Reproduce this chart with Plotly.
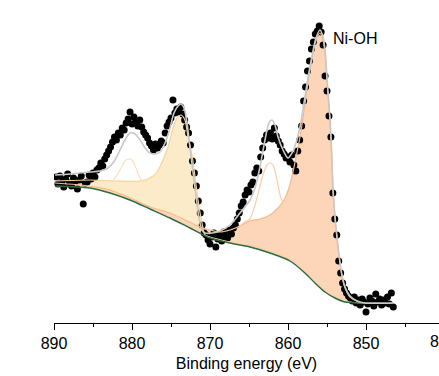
import numpy as np
import plotly.graph_objects as go

# ---------------- data (binding energy in eV, intensity in a.u.) ----------------
# measured spectrum: regular 0.25 eV grid from 889.75 eV down to 846.5 eV
meas_energy = np.round(np.arange(889.75, 846.49, -0.25), 2)
meas_counts = [
    146, 139, 147, 141, 136, 144, 149, 140, 137, 145, 142, 134, 143, 147, 119, 140,
    141, 148, 144, 150, 146, 153, 155, 160, 157, 164, 168, 172,
    176, 181, 186, 183, 190, 188, 195, 193, 200, 204, 211, 199, 206, 202, 197, 203,
    196, 191, 188, 185, 180, 177, 173, 179, 175, 178, 182, 180,
    190, 197, 201, 205, 223, 210, 214, 211, 216, 209, 203, 196, 190, 178,
    162, 150, 137, 122, 110, 98, 90,
    88, 83, 79, 86, 90, 76, 84, 88, 82, 91, 87, 85, 93, 89, 95, 98,
    104, 110, 117, 121, 128, 133, 131, 138, 141, 150, 155, 152, 166,
    175, 183, 188, 185, 190, 184, 195, 187, 182, 178, 172, 169, 165,
    166, 161, 168, 158, 152, 172, 183, 197,
    222, 236, 252, 262, 274, 281, 289, 292, 297, 291,
    278, 247, 232, 207, 186, 130, 104, 88, 62, 50, 40, 34, 30,
    27, 25, 22, 26, 20, 23, 18, 24, 21, 11, 19, 25, 22, 17, 29, 21, 24, 18, 23, 20, 26, 19, 30, 16,
]

# Shirley background
bg_energy = [889.87, 885.38, 882.82, 880.26, 877.69, 875.13, 872.56, 870.0, 867.44,
             864.87, 862.31, 859.74, 857.82, 856.54, 855.26, 853.97, 852.69, 850.77, 846.54]
bg_counts = [137, 135, 130, 123, 114, 105, 95, 85, 80,
             76, 70, 62, 50, 40, 31, 25, 21, 20, 20]

# Ni 2p1/2 main component (background + peak)
p12_energy = [889.87, 885.38, 882.18, 878.97, 877.69, 876.79, 876.03, 875.38, 874.74,
              874.23, 873.72, 873.21, 872.82, 872.31, 871.92, 871.54, 871.03, 870.64,
              870.0, 867.44, 863.59, 859.74, 857.18, 854.62, 852.05, 846.54]
p12_counts = [142, 143, 142, 142, 145, 151, 163, 176, 195,
              205, 208, 203, 186, 168, 146, 123, 100, 88,
              86, 81, 75, 63, 45, 28, 21, 20]

# Ni 2p3/2 main component, Ni-OH (background + peak)
p32_energy = [889.87, 885.38, 882.82, 880.26, 877.69, 875.13, 873.21, 871.28, 870.0,
              868.72, 867.44, 866.15, 864.87, 863.59, 862.31, 861.28, 860.51, 859.87,
              859.36, 858.97, 858.46, 857.95, 857.44, 856.92, 856.41, 855.90, 855.51,
              855.26, 855.0, 854.81, 854.62, 854.42, 854.23, 853.97, 853.72, 853.46,
              853.08, 852.69, 852.05, 851.15, 850.13, 846.54]
p32_counts = [140, 137, 133, 125, 116, 110, 103, 96, 93,
              91, 93, 97, 102, 104, 108, 115, 123, 135,
              151, 166, 186, 212, 240, 264, 283, 290, 283,
              271, 243, 223, 203, 173, 133, 105, 85, 67,
              47, 35, 26, 22, 20, 20]

# satellite of Ni 2p1/2
sat12_energy = [883.2, 882.56, 881.92, 881.28, 880.77, 880.38, 880.0, 879.49, 878.97, 878.59, 878.0]
sat12_counts = [142, 142, 148, 157, 163, 164, 163, 155, 145, 142, 142]

# satellite of Ni 2p3/2
sat32_energy = [866.2, 865.51, 864.87, 864.23, 863.72, 863.21, 862.69, 862.31, 861.92,
                861.54, 861.15, 860.90, 860.64]
sat32_counts = [97, 101, 104, 118, 133, 148, 158, 160, 158,
                148, 133, 125, 121]

# fitted envelope
env_energy = [889.87, 887.95, 885.38, 884.10, 883.08, 882.18, 881.54, 880.90, 880.26,
              879.62, 878.97, 878.33, 877.69, 877.05, 876.41, 875.77, 875.13, 874.62,
              874.10, 873.72, 873.33, 872.95, 872.56, 872.18, 871.79, 871.41, 871.03,
              870.64, 869.74, 868.72, 867.44, 866.15, 864.87, 864.23, 863.59, 862.95,
              862.44, 862.05, 861.67, 861.28, 860.64, 860.0, 859.49, 858.97, 858.46,
              857.95, 857.44, 856.92, 856.41, 855.90, 855.51, 855.26, 855.0, 854.81,
              854.62, 854.42, 854.23, 853.97, 853.72, 853.46, 853.08, 852.69, 852.05,
              851.15, 850.13, 846.54]
env_counts = [148, 149, 151, 152, 155, 163, 173, 183, 190,
              189, 183, 175, 170, 169, 171, 180, 195, 210,
              217, 219, 215, 200, 175, 151, 127, 105, 93,
              90, 90, 92, 98, 110, 123, 135, 156, 183,
              200, 203, 198, 186, 173, 165, 170, 180, 196,
              220, 245, 267, 285, 293, 286,
              273, 245, 224, 204, 174, 134, 106, 86, 68,
              48, 36, 27, 22, 20, 20]

x_ticks = [890, 880, 870, 860, 850]
cut_tick_label = "840"
peak_label = "Ni-OH"
x_title = "Binding energy (eV)"

# ---------------- styling ----------------
FONT = "Arial, 'Liberation Sans', sans-serif"
C_BG = "#2f6b40"
C_ENV = "#c8c8c8"
C_P12_FILL = "#fcebc9"
C_P12_LINE = "#f7d29a"
C_P32_FILL = "#fdd6ba"
C_P32_LINE = "#f8b887"
C_SAT12 = "#fbe0b4"
C_SAT32 = "#fbcbab"

SM = 0.8
fig = go.Figure()


def spline(x, y, color, width=1.2, **kw):
    return go.Scatter(x=x, y=y, mode="lines", hoverinfo="skip", showlegend=False,
                      line=dict(color=color, width=width, shape="spline", smoothing=SM), **kw)


# filled components
fig.add_trace(spline(bg_energy, bg_counts, "rgba(0,0,0,0)", width=0))
fig.add_trace(spline(p12_energy, p12_counts, "rgba(0,0,0,0)", width=0,
                     fill="tonexty", fillcolor=C_P12_FILL))
fig.add_trace(spline(bg_energy, bg_counts, "rgba(0,0,0,0)", width=0))
fig.add_trace(spline(p32_energy, p32_counts, "rgba(0,0,0,0)", width=0,
                     fill="tonexty", fillcolor=C_P32_FILL))

# measured points
fig.add_trace(go.Scatter(x=meas_energy, y=meas_counts, mode="markers", showlegend=False,
                         marker=dict(color="black", size=7, line=dict(width=0))))

# component lines
fig.add_trace(spline(p12_energy, p12_counts, C_P12_LINE))
fig.add_trace(spline(sat12_energy, sat12_counts, C_SAT12))
fig.add_trace(spline(p32_energy, p32_counts, C_P32_LINE))
fig.add_trace(spline(sat32_energy, sat32_counts, C_SAT32))
fig.add_trace(spline(bg_energy, bg_counts, C_BG, width=1.4))
fig.add_trace(spline(env_energy, env_counts, C_ENV, width=1.6))

W, H = 439, 376
ML, MB = 54, 53
plot_w = W - ML
px_per_ev = 7.8
x_right = 890 - plot_w / px_per_ev

fig.update_layout(
    width=W, height=H,
    margin=dict(l=ML, r=0, t=0, b=MB, pad=0),
    paper_bgcolor="white", plot_bgcolor="white",
    font=dict(family=FONT, size=16, color="black"),
    showlegend=False,
    xaxis=dict(
        range=[890, x_right], showgrid=False, zeroline=False,
        showline=True, linecolor="black", linewidth=1,
        tickmode="array", tickvals=x_ticks,
        ticks="outside", ticklen=6, tickwidth=1, tickcolor="black",
        tickfont=dict(family=FONT, size=16, color="black"),
        minor=dict(dtick=5, tick0=0, ticks="outside", ticklen=3, tickwidth=1, tickcolor="black"),
        title=dict(text=x_title, font=dict(family=FONT, size=16, color="black"), standoff=6),
    ),
    yaxis=dict(range=[0, H - MB], visible=False, showgrid=False, zeroline=False),
    annotations=[
        dict(text=peak_label, x=854.49, y=285, xref="x", yref="y",
             xanchor="left", yanchor="middle", showarrow=False,
             font=dict(family=FONT, size=16, color="black")),
        dict(text=cut_tick_label, x=(890 - 840) * px_per_ev / plot_w, y=-18 / (H - MB),
             xref="paper", yref="paper", xanchor="center", yanchor="middle", showarrow=False,
             font=dict(family=FONT, size=16, color="black")),
    ],
)

fig.write_html("out.html")
